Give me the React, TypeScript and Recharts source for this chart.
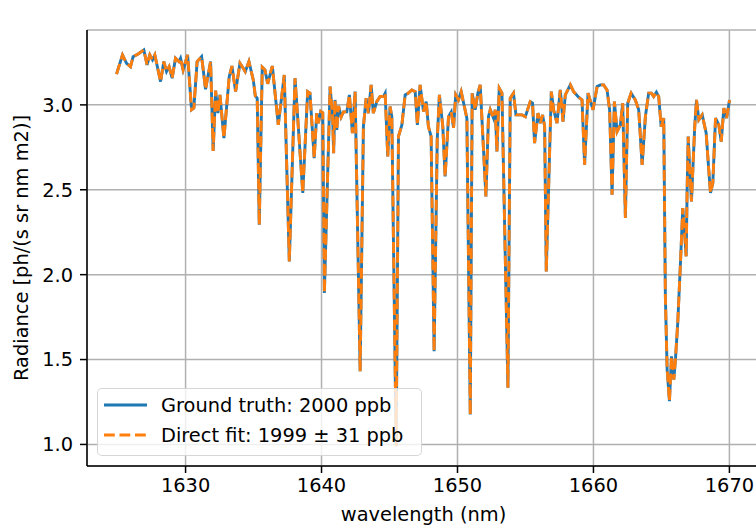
import { LineChart, Line, XAxis, YAxis, CartesianGrid, Legend } from "recharts";

// wavelength samples (nm)
const wavelength = [
  1624.92, 1625.36, 1625.66, 1625.95, 1626.14, 1626.51, 1626.93, 1627.17, 1627.37, 1627.57,
  1627.74, 1628.16, 1628.4, 1628.6, 1628.79, 1629.01, 1629.26, 1629.51, 1629.63, 1629.82,
  1630.15, 1630.44, 1630.61, 1630.85, 1631.18, 1631.47, 1631.84, 1632.03, 1632.21, 1632.38,
  1632.53, 1632.82, 1633.21, 1633.41, 1633.68, 1634.0, 1634.24, 1634.39, 1634.66, 1634.98,
  1635.13, 1635.27, 1635.42, 1635.64, 1635.84, 1636.04, 1636.38, 1636.82, 1637.26, 1637.63,
  1638.05, 1638.62, 1638.98, 1639.15, 1639.46, 1639.65, 1639.76, 1639.94, 1640.09, 1640.21,
  1640.63, 1640.82, 1640.89, 1640.99, 1641.12, 1641.25, 1641.44, 1641.61, 1641.86, 1642.05,
  1642.27, 1642.47, 1642.84, 1643.08, 1643.28, 1643.45, 1643.65, 1643.81, 1644.06, 1644.31,
  1644.55, 1644.68, 1644.87, 1645.04, 1645.17, 1645.49, 1645.66, 1645.91, 1646.15, 1646.39,
  1646.64, 1646.89, 1647.05, 1647.25, 1647.5, 1647.7, 1647.86, 1648.06, 1648.28, 1648.51,
  1648.67, 1648.92, 1649.09, 1649.34, 1649.54, 1649.71, 1649.87, 1650.07, 1650.27, 1650.69,
  1650.94, 1651.08, 1651.3, 1651.5, 1651.67, 1652.09, 1652.28, 1652.41, 1652.65, 1652.78,
  1652.9, 1653.07, 1653.27, 1653.71, 1653.88, 1654.12, 1654.3, 1654.74, 1654.99, 1655.35,
  1655.52, 1655.67, 1655.92, 1656.09, 1656.26, 1656.41, 1656.53, 1656.9, 1657.07, 1657.32,
  1657.56, 1657.76, 1657.93, 1658.3, 1658.54, 1658.91, 1659.16, 1659.35, 1659.6, 1659.97,
  1660.27, 1660.51, 1660.75, 1661.0, 1661.19, 1661.37, 1661.54, 1661.74, 1661.98, 1662.15,
  1662.35, 1662.52, 1662.77, 1663.08, 1663.33, 1663.58, 1663.82, 1664.06, 1664.26, 1664.43,
  1664.63, 1664.8, 1664.98, 1665.17, 1665.29, 1665.42, 1665.59, 1665.74, 1665.91, 1666.03,
  1666.2, 1666.4, 1666.57, 1666.69, 1666.82, 1666.89, 1666.97, 1667.08, 1667.21, 1667.33,
  1667.45, 1667.58, 1667.75, 1668.0, 1668.29, 1668.48, 1668.61, 1668.78, 1668.98, 1669.22,
  1669.4, 1669.59, 1669.79, 1670.01,
];

// radiance in units of 1e16 ph/(s sr nm m2)
const truthRadiance = [
  3.181, 3.294, 3.245, 3.225, 3.284, 3.3, 3.324, 3.235, 3.294, 3.265,
  3.294, 3.137, 3.255, 3.196, 3.225, 3.157, 3.275, 3.255, 3.275, 3.206,
  3.294, 2.971, 2.981, 3.255, 3.284, 3.092, 3.255, 2.729, 3.084, 2.951,
  3.059, 2.804, 3.166, 3.229, 3.078, 3.245, 3.216, 3.196, 3.255, 3.147,
  3.053, 3.039, 2.294, 3.222, 3.206, 3.124, 3.229, 2.882, 3.176, 2.078,
  3.157, 2.481, 3.078, 3.069, 2.686, 2.951, 2.892, 2.961, 2.953, 1.892,
  3.108, 2.924, 2.716, 3.029, 2.853, 2.994, 2.929, 2.959, 2.959, 3.059,
  2.834, 3.078, 1.431, 2.872, 3.039, 2.951, 3.118, 2.951, 3.019, 3.049,
  3.049, 3.069, 2.696, 2.99, 2.931, 0.99, 2.814, 2.882, 3.059, 3.069,
  3.088, 3.078, 2.882, 3.118, 2.961, 3.019, 2.872, 2.814, 1.549, 2.794,
  3.059, 2.872, 2.578, 2.931, 2.959, 2.865, 3.059, 3.029, 3.078, 2.922,
  1.176, 3.069, 2.971, 3.069, 3.118, 2.461, 2.931, 2.971, 2.922, 2.971,
  2.725, 3.098, 3.069, 1.334, 3.039, 3.069, 2.941, 2.941, 2.931, 3.019,
  3.01, 2.775, 2.951, 2.892, 2.941, 2.872, 2.019, 3.078, 2.971, 2.892,
  3.088, 2.902, 3.059, 3.118, 3.078, 3.045, 3.029, 2.647, 3.069, 2.971,
  3.108, 3.118, 3.118, 3.088, 2.971, 2.471, 3.019, 2.843, 2.882, 3.01,
  2.334, 3.01, 3.069, 3.029, 2.971, 2.647, 2.931, 3.069, 3.069, 3.049,
  3.075, 3.049, 2.872, 2.922, 1.872, 1.441, 1.255, 1.519, 1.382, 1.5,
  1.716, 2.069, 2.392, 2.265, 2.108, 2.5, 2.814, 2.618, 2.431, 2.657,
  2.872, 3.029, 2.912, 2.941, 2.834, 2.618, 2.481, 2.539, 2.922, 2.882,
  2.784, 2.981, 2.922, 3.029,
];

// the direct fit lies on top of the ground truth everywhere in the picture
const fitRadiance = truthRadiance.slice();

const seriesOrder = ["truth", "fit"];
const xTicks = [1630, 1640, 1650, 1660, 1670];
const yTicks = [1.0, 1.5, 2.0, 2.5, 3.0];

const data = wavelength.map((wl, i) => ({ wl, truth: truthRadiance[i], fit: fitRadiance[i] }));

const FONT = "DejaVu Sans";
const FS = 19.4;
const tickStyle = { fill: "#000", fontSize: FS, fontFamily: FONT };

function LegendBox(props: any) {
  const items = [...(props.payload || [])].sort(
    (a: any, b: any) => seriesOrder.indexOf(a.dataKey) - seriesOrder.indexOf(b.dataKey)
  );
  return (
    <div
      style={{
        width: 325,
        height: 68,
        boxSizing: "border-box",
        border: "1.5px solid rgba(204,204,204,0.8)",
        borderRadius: 5,
        background: "rgba(255,255,255,0.8)",
      }}
    >
      <svg width={322} height={65} style={{ display: "block" }}>
        {items.map((it: any, i: number) => {
          const cy = 16 + i * 30;
          return (
            <g key={i}>
              <line
                x1={6}
                x2={49}
                y1={cy}
                y2={cy}
                stroke={it.color}
                strokeWidth={2.9}
                strokeDasharray={it.payload?.strokeDasharray}
              />
              <text x={63} y={cy} dominantBaseline="central" fontFamily={FONT} fontSize={FS} fill="#000">
                {it.value}
              </text>
            </g>
          );
        })}
      </svg>
    </div>
  );
}

export default function App() {
  return (
    <div style={{ position: "absolute", left: 0, top: 0, width: 756, height: 529, overflow: "hidden", background: "#fff" }}>
      <LineChart width={770} height={529} data={data} margin={{ top: 30, right: 10, bottom: 0, left: 0 }}>
        <CartesianGrid stroke="#b0b0b0" strokeWidth={1.5} />
        <XAxis
          dataKey="wl"
          type="number"
          domain={[1622.75, 1672.25]}
          ticks={xTicks}
          allowDataOverflow
          height={63}
          tick={tickStyle}
          tickSize={7}
          tickMargin={5}
          tickLine={{ stroke: "#000", strokeWidth: 1.5 }}
          axisLine={{ stroke: "#000", strokeWidth: 1.5 }}
          label={{
            content: () => (
              <text x={423.5} y={521} textAnchor="middle" fontFamily={FONT} fontSize={FS} fill="#000">
                wavelength (nm)
              </text>
            ),
          }}
        />
        <XAxis
          xAxisId="top"
          orientation="top"
          dataKey="wl"
          type="number"
          domain={[1622.75, 1672.25]}
          height={0}
          tick={false}
          tickLine={false}
          axisLine={{ stroke: "#000", strokeWidth: 1.5 }}
          label={{
            content: () => (
              <text x={87} y={24} fontFamily={FONT} fontSize={FS} fill="#000">
                1e16
              </text>
            ),
          }}
        />
        <YAxis
          type="number"
          domain={[0.873, 3.441]}
          ticks={yTicks}
          allowDataOverflow
          width={87}
          tick={tickStyle}
          tickFormatter={(v: number) => v.toFixed(1)}
          tickSize={7}
          tickMargin={7}
          tickLine={{ stroke: "#000", strokeWidth: 1.5 }}
          axisLine={{ stroke: "#000", strokeWidth: 1.5 }}
          label={{
            content: () => (
              <text
                x={28}
                y={248}
                textAnchor="middle"
                transform="rotate(-90 28 248)"
                fontFamily={FONT}
                fontSize={FS}
                fill="#000"
              >
                Radiance [ph/(s sr nm m2)]
              </text>
            ),
          }}
        />
        <Line
          dataKey="truth"
          name="Ground truth: 2000 ppb"
          type="linear"
          stroke="#1f77b4"
          strokeWidth={2.9}
          dot={false}
          activeDot={false}
          isAnimationActive={false}
        />
        <Line
          dataKey="fit"
          name="Direct fit: 1999 ± 31 ppb"
          type="linear"
          stroke="#ff7f0e"
          strokeWidth={2.9}
          strokeDasharray="10.8 4.7"
          dot={false}
          activeDot={false}
          isAnimationActive={false}
        />
        <Legend
          layout="vertical"
          align="center"
          verticalAlign="middle"
          content={<LegendBox />}
          wrapperStyle={{ left: 97, top: 388, width: 325, height: 68 }}
        />
      </LineChart>
    </div>
  );
}
